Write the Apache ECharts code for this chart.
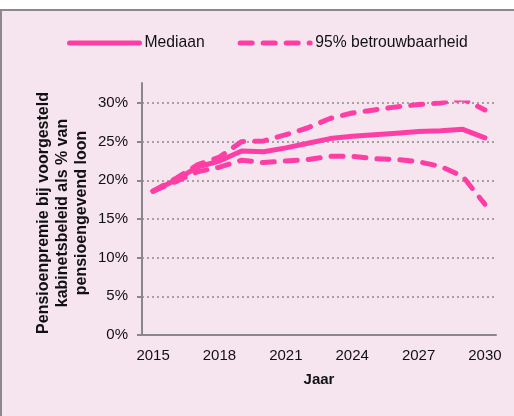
<!DOCTYPE html>
<html><head><meta charset="utf-8">
<script src="https://cdn.jsdelivr.net/npm/echarts@6/dist/echarts.min.js"></script>
<style>html,body{margin:0;padding:0;background:#fff;}#c{width:514px;height:416px;}</style>
</head><body><div id="c"></div>
<script>
const years = ['2015','2016','2017','2018','2019','2020','2021','2022','2023','2024','2025','2026','2027','2028','2029','2030'];
const median = [18.6,20.0,21.7,22.5,23.8,23.7,24.2,24.8,25.4,25.7,25.9,26.1,26.3,26.4,26.6,25.5];
const upper95 = [18.6,20.2,22.0,23.0,25.0,25.1,25.9,26.8,28.0,28.7,29.1,29.5,29.8,30.0,30.5,29.1];
const lower95 = [18.6,19.8,21.1,21.7,22.6,22.3,22.5,22.7,23.1,23.1,22.8,22.7,22.4,21.8,20.5,16.9];
const yTicks = [0,5,10,15,20,25,30];

const pink = '#ff3ea5';
const font = 'Liberation Sans, Arial, sans-serif';
const fs = 15;
const chart = echarts.init(document.getElementById('c'), null, {renderer:'canvas'});
const dashStyle = {color: pink, width: 5, type: [12, 11], cap: 'round', join: 'round'};
chart.setOption({
  backgroundColor: '#fff',
  animation: false,
  textStyle: {fontFamily: font},
  graphic: [{type:'rect', left: 0, top: 9, shape:{width: 530, height: 420}, style:{fill:'#f6e4ef', stroke:'#8a8a8a', lineWidth: 2}, z: -10}],
  legend: {
    left: 67, top: 35, padding: 0, itemWidth: 70, itemHeight: 14, itemGap: 33,
    itemStyle: {opacity: 0},
    lineStyle: {width: 5, cap: 'round'},
    textStyle: {fontSize: 15.7, color: '#111', fontFamily: font},
    data: ['Mediaan', '95% betrouwbaarheid']
  },
  grid: [
    {left: 142, right: 18, top: 103, bottom: 81},
    {left: 142, right: 18, top: 83, bottom: 81}
  ],
  xAxis: [{
    gridIndex: 0,
    type: 'category', data: years, boundaryGap: true,
    name: 'Jaar', nameLocation: 'middle', nameGap: 37,
    nameTextStyle: {fontWeight: 'bold', fontSize: fs, color: '#111', fontFamily: font},
    axisLine: {lineStyle: {color: '#888', width: 2}},
    axisTick: {interval: 2, length: 5, lineStyle: {color: '#888', width: 2}},
    axisLabel: {interval: 2, fontSize: fs, color: '#111', margin: 13, fontFamily: font}
  }, {
    gridIndex: 1, type: 'category', data: years, show: false
  }],
  yAxis: [{
    gridIndex: 0,
    type: 'value', min: 0, max: 30, interval: 5,
    axisLine: {show: false},
    axisTick: {show: true, length: 5, lineStyle: {color: '#888', width: 2}},
    axisLabel: {fontSize: fs, color: '#111', margin: 14, fontFamily: font,
      formatter: v => yTicks.includes(v) ? v + '%' : ''},
    splitLine: {lineStyle: {color: '#8a8a8a', width: 1.5, type: [2, 3]}}
  }, {
    gridIndex: 1,
    type: 'value', min: 0, max: 32.6,
    axisLine: {show: true, lineStyle: {color: '#888', width: 2}},
    axisTick: {show: false}, axisLabel: {show: false}, splitLine: {show: false},
    name: 'Pensioenpremie bij voorgesteld\nkabinetsbeleid als % van\npensioengevend loon',
    nameLocation: 'middle', nameGap: 51, nameRotate: 90,
    nameTextStyle: {fontWeight: 'bold', fontSize: 16, color: '#111', lineHeight: 19, fontFamily: font, padding: [0, 8, 0, 0]}
  }],
  series: [
    {name: 'Mediaan', type: 'line', xAxisIndex: 0, yAxisIndex: 0, data: median, symbol: 'none', lineStyle: {color: pink, width: 5, cap: 'round', join: 'round'}, itemStyle: {color: pink}, z: 3},
    {name: '95% betrouwbaarheid', type: 'line', xAxisIndex: 0, yAxisIndex: 0, data: upper95, symbol: 'none', lineStyle: dashStyle, itemStyle: {color: pink}},
    {name: '95% betrouwbaarheid', type: 'line', xAxisIndex: 0, yAxisIndex: 0, data: lower95, symbol: 'none', lineStyle: dashStyle, itemStyle: {color: pink}}
  ]
});
</script></body></html>
